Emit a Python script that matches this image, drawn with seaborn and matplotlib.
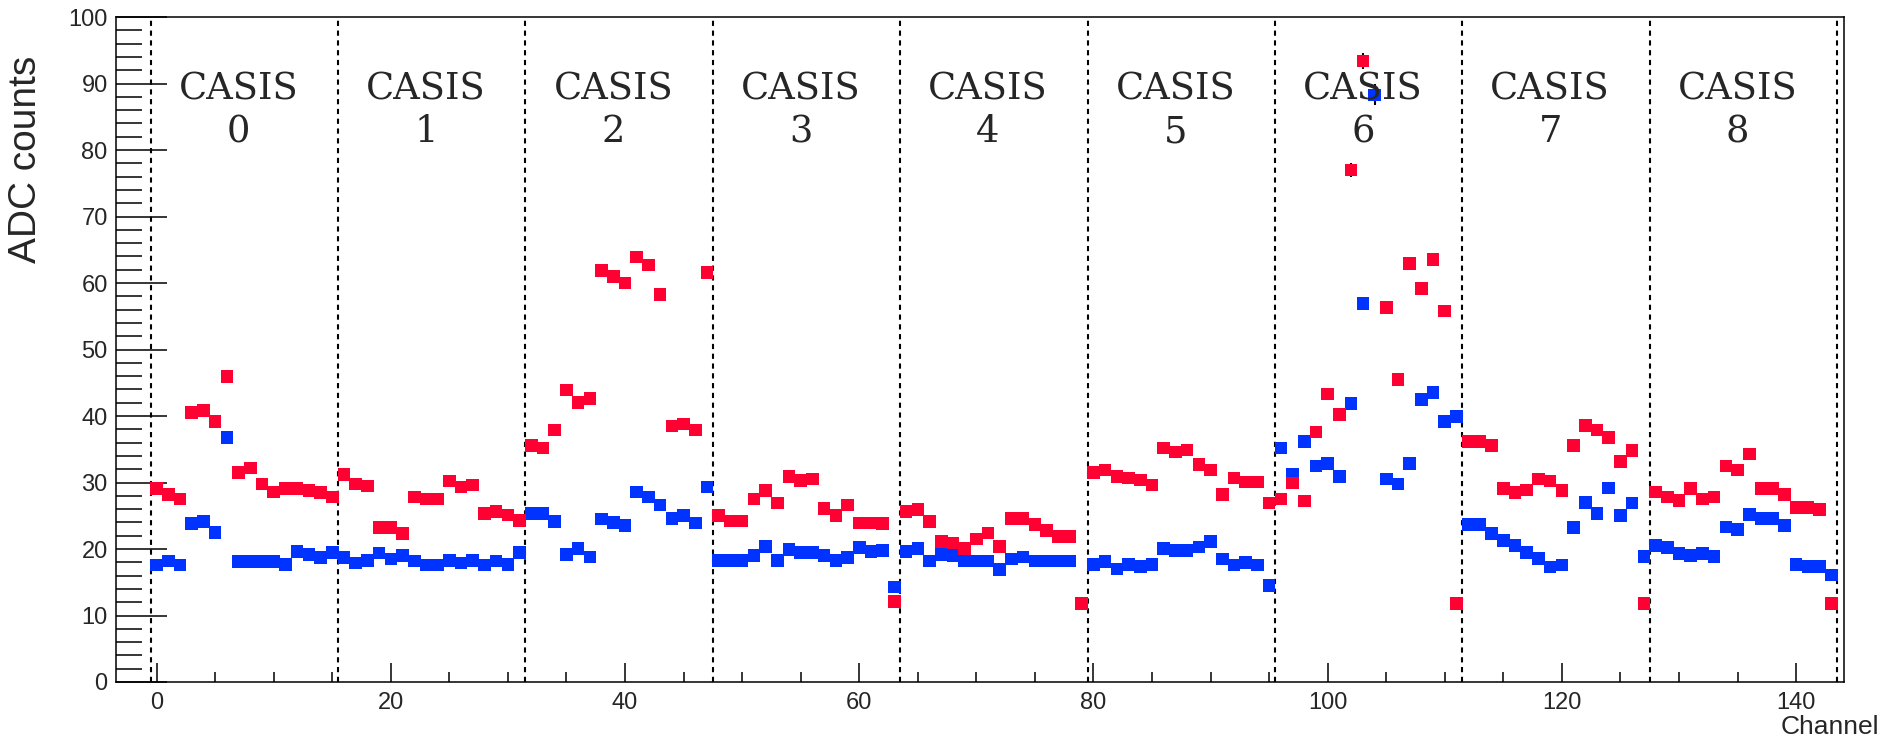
import matplotlib
matplotlib.use("Agg")
import matplotlib.pyplot as plt
import matplotlib.ticker as mticker
import numpy as np
import pandas as pd
import seaborn as sns

# ---------------------------------------------------------------
# Data: ADC counts per readout channel (9 CASIS chips x 16 ch)
# ---------------------------------------------------------------
channels = np.arange(144)
casis_ids = list(range(9))
channels_per_casis = 16

adc_red = [
    29.1, 28.2, 27.5, 40.5, 40.8, 39.2, 45.9, 31.5, 32.2, 29.8, 28.6, 29.1, 29.1, 28.8, 28.5, 27.8,
    31.2, 29.8, 29.5, 23.2, 23.2, 22.3, 27.8, 27.5, 27.5, 30.2, 29.3, 29.6, 25.3, 25.6, 25.1, 24.3,
    35.6, 35.2, 37.9, 43.9, 42.0, 42.6, 61.9, 61.0, 60.0, 63.9, 62.7, 58.3, 38.5, 38.8, 37.9, 61.6,
    25.0, 24.2, 24.2, 27.5, 28.8, 26.9, 30.9, 30.3, 30.5, 26.1, 25.0, 26.6, 23.9, 23.9, 23.8, 12.1,
    25.6, 25.9, 24.1, 21.1, 20.9, 20.1, 21.5, 22.4, 20.4, 24.6, 24.6, 23.7, 22.8, 21.9, 21.9, 11.8,
    31.5, 31.9, 30.9, 30.7, 30.4, 29.6, 35.2, 34.6, 34.9, 32.7, 31.9, 28.2, 30.7, 30.1, 30.1, 26.9,
    27.5, 29.9, 27.2, 37.6, 43.3, 40.2, 77.0, 93.4, np.nan, 56.3, 45.5, 62.9, 59.2, 63.5, 55.8, 11.8,
    36.2, 36.2, 35.6, 29.1, 28.5, 28.9, 30.5, 30.2, 28.8, 35.6, 38.6, 37.9, 36.8, 33.2, 34.8, 11.8,
    28.6, 27.8, 27.3, 29.1, 27.5, 27.8, 32.5, 31.9, 34.3, 29.1, 29.1, 28.2, 26.2, 26.2, 25.9, 11.8,
]

adc_blue = [
    17.6, 18.2, 17.6, 23.8, 24.1, 22.5, 36.8, 18.1, 18.1, 18.1, 18.1, 17.7, 19.6, 19.2, 18.7, 19.5,
    18.7, 17.9, 18.3, 19.4, 18.5, 19.0, 18.2, 17.6, 17.6, 18.3, 17.9, 18.3, 17.6, 18.2, 17.7, 19.5,
    25.3, 25.3, 24.1, 19.2, 20.1, 18.8, 24.5, 24.0, 23.5, 28.6, 27.8, 26.6, 24.6, 25.0, 23.9, 29.3,
    18.3, 18.3, 18.3, 19.0, 20.4, 18.3, 19.9, 19.5, 19.5, 19.0, 18.3, 18.7, 20.2, 19.6, 19.8, 14.3,
    19.6, 20.1, 18.2, 19.2, 19.0, 18.2, 18.2, 18.2, 16.9, 18.5, 18.8, 18.2, 18.2, 18.2, 18.2, np.nan,
    17.7, 18.1, 17.0, 17.7, 17.4, 17.7, 20.1, 19.8, 19.8, 20.3, 21.1, 18.5, 17.6, 18.0, 17.6, 14.5,
    35.2, 31.2, 36.2, 32.5, 32.9, 30.9, 41.9, 56.9, 88.3, 30.5, 29.8, 32.9, 42.5, 43.5, 39.2, 39.9,
    23.7, 23.7, 22.3, 21.3, 20.5, 19.5, 18.6, 17.3, 17.6, 23.2, 27.0, 25.3, 29.2, 25.0, 26.9, 18.9,
    20.5, 20.2, 19.3, 19.0, 19.3, 18.9, 23.3, 22.9, 25.2, 24.6, 24.6, 23.5, 17.7, 17.4, 17.4, 16.1,
]

# error bars that stick out of the markers (others are hidden below them)
err_red = {102: 1.1, 103: 1.2}
err_blue = {104: 1.6}

colors = {"blue": "#0033ff", "red": "#ff0033"}


def main():
    df = pd.concat([
        pd.DataFrame({"Channel": channels, "ADC": adc_blue, "run": "blue"}),
        pd.DataFrame({"Channel": channels, "ADC": adc_red, "run": "red"}),
    ], ignore_index=True).dropna()

    sns.set_style("ticks")
    plt.rcParams["font.family"] = ["Liberation Sans", "DejaVu Sans"]

    fig = plt.figure(figsize=(18.81, 7.43), dpi=100)
    ax = fig.add_axes([0.0617, 0.0821, 0.9187, 0.8950])

    # error bars first, markers on top
    for errs, vals in ((err_blue, adc_blue), (err_red, adc_red)):
        ax.errorbar(
            list(errs.keys()),
            [vals[c] for c in errs],
            yerr=list(errs.values()),
            fmt="none",
            ecolor="black",
            elinewidth=1.5,
            zorder=2,
        )

    sns.scatterplot(
        data=df,
        x="Channel",
        y="ADC",
        hue="run",
        palette=colors,
        marker="s",
        s=82,
        linewidth=0,
        edgecolor="none",
        legend=False,
        zorder=3,
        ax=ax,
    )

    # CASIS chip boundaries + labels
    for k in casis_ids + [len(casis_ids)]:
        ax.axvline(k * channels_per_casis - 0.5, color="black",
                   linestyle=(0, (2.5, 2.2)), linewidth=1.5, zorder=1)
    for k in casis_ids:
        xc = k * channels_per_casis + (channels_per_casis - 1) / 2 - 0.5
        ax.text(xc, 85.9, f"CASIS\n{k}", ha="center", va="center",
                multialignment="center", linespacing=1.25,
                fontsize=26.5, family="DejaVu Serif")

    ax.set_xlim(-3.46, 144.1)
    ax.set_ylim(0, 100)

    ax.xaxis.set_major_locator(mticker.MultipleLocator(20))
    ax.xaxis.set_minor_locator(mticker.MultipleLocator(5))
    ax.yaxis.set_major_locator(mticker.MultipleLocator(10))
    ax.yaxis.set_minor_locator(mticker.MultipleLocator(2))

    ax.tick_params(axis="both", which="both", direction="in",
                   left=True, bottom=True, right=False, top=False,
                   width=1.1, color="black", labelsize=17)
    ax.tick_params(axis="y", which="major", length=37, pad=6)
    ax.tick_params(axis="y", which="minor", length=18.5)
    ax.tick_params(axis="x", which="major", length=14, pad=7)
    ax.tick_params(axis="x", which="minor", length=7)

    for sp in ax.spines.values():
        sp.set_visible(True)
        sp.set_color("black")
        sp.set_linewidth(1.1)

    # rotated y label: anchor mode, so "right" is the top end of the text
    ax.set_ylabel("ADC counts", fontsize=28, ha="right", va="center")
    ax.yaxis.set_label_coords(-0.052, 0.941)
    ax.set_xlabel("Channel", fontsize=19, ha="right", va="center")
    ax.xaxis.set_label_coords(1.0203, -0.068)

    fig.savefig("out.png", dpi=100)
    plt.close(fig)


if __name__ == "__main__":
    main()
